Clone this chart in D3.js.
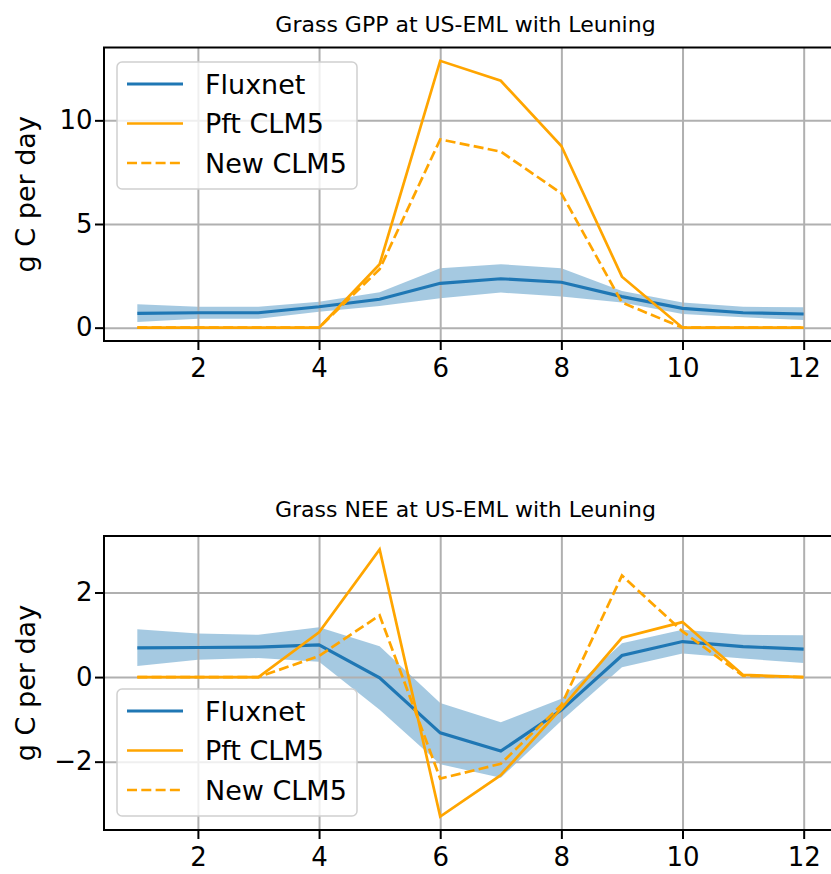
<!DOCTYPE html>
<html><head><meta charset="utf-8">
<script src="https://cdn.jsdelivr.net/npm/d3@7"></script>
<style>body{margin:0;background:#fff} svg{display:block;font-family:"DejaVu Sans",sans-serif}</style>
</head><body><svg id="c" width="831" height="874"></svg>
<script>
const months = [1,2,3,4,5,6,7,8,9,10,11,12];
const xTicks = [2,4,6,8,10,12];

// GPP panel
const gppFlux  = [0.69,0.72,0.72,1.01,1.37,2.14,2.36,2.19,1.50,0.93,0.72,0.66];
const gppLower = [0.27,0.43,0.43,0.77,1.05,1.42,1.69,1.50,1.21,0.66,0.50,0.37];
const gppUpper = [1.13,1.01,1.01,1.25,1.71,2.86,3.06,2.86,1.77,1.21,1.01,0.98];
const gppPft   = [0,0,0,0,3.06,12.87,11.91,8.76,2.46,0,0,0];
const gppNew   = [0,0,0,0,2.82,9.08,8.49,6.48,1.21,0,0,0];
const gppTicks = [0,5,10];

// NEE panel
const neeFlux  = [0.69,0.70,0.71,0.76,-0.02,-1.32,-1.75,-0.78,0.51,0.84,0.72,0.66];
const neeLower = [0.26,0.41,0.45,0.36,-0.77,-2.06,-2.38,-1.03,0.23,0.56,0.44,0.33];
const neeUpper = [1.13,1.03,1.00,1.18,0.73,-0.61,-1.07,-0.51,0.80,1.12,1.00,0.99];
const neePft   = [0,0,0,1.06,3.02,-3.30,-2.32,-0.74,0.93,1.30,0.05,0];
const neeNew   = [0,0,0,0.50,1.46,-2.40,-2.05,-0.66,2.40,1.08,0.03,0];
const neeTicks = [-2,0,2];

const seriesNames = ["Fluxnet","Pft CLM5","New CLM5"];
const BLUE = "#1f77b4", ORANGE = "#ffa500";
const FS = 27, TFS = 26;

const svg = d3.select("#c");
svg.append("rect").attr("width",831).attr("height",874).attr("fill","#fff");

function padded(ext){ const r = ext[1]-ext[0]; return [ext[0]-0.05*r, ext[1]+0.05*r]; }

function panel(o){
  const L = 104, R = 837;
  const x = d3.scaleLinear().domain(padded(d3.extent(months))).range([L,R]);
  const allY = [].concat(o.flux,o.lower,o.upper,o.pft,o.nw);
  const y = d3.scaleLinear().domain(padded(d3.extent(allY))).range([o.bottom,o.top]);
  const g = svg.append("g");
  const H = o.bottom - o.top;

  // band
  const area = d3.area().x((d,i)=>x(months[i])).y0((d,i)=>y(o.lower[i])).y1((d,i)=>y(o.upper[i]));
  g.append("path").datum(o.lower).attr("d",area).attr("fill",BLUE).attr("fill-opacity",0.4);

  // grid
  const gx = g.append("g").attr("transform",`translate(0,${o.bottom})`)
    .call(d3.axisBottom(x).tickValues(xTicks).tickSize(-H).tickFormat(""));
  const gy = g.append("g").attr("transform",`translate(${L},0)`)
    .call(d3.axisLeft(y).tickValues(o.yTicks).tickSize(-(R-L)).tickFormat(""));
  [gx,gy].forEach(a=>{a.select(".domain").remove(); a.selectAll("line").attr("stroke","#b0b0b0").attr("stroke-width",2);});

  // lines
  const line = arr => d3.line().x((d,i)=>x(months[i])).y(d=>y(d))(arr);
  g.append("path").attr("d",line(o.flux)).attr("fill","none").attr("stroke",BLUE).attr("stroke-width",3.2);
  g.append("path").attr("d",line(o.pft)).attr("fill","none").attr("stroke",ORANGE).attr("stroke-width",2.7);
  g.append("path").attr("d",line(o.nw)).attr("fill","none").attr("stroke",ORANGE).attr("stroke-width",2.7).attr("stroke-dasharray","10,4.3");

  // spines
  g.append("rect").attr("x",L).attr("y",o.top).attr("width",R-L).attr("height",H)
    .attr("fill","none").attr("stroke","#000").attr("stroke-width",2);

  // axes
  const ax = g.append("g").attr("transform",`translate(0,${o.bottom})`)
    .call(d3.axisBottom(x).tickValues(xTicks).tickSize(9).tickPadding(9).tickFormat(d3.format("d")));
  const ay = g.append("g").attr("transform",`translate(${L},0)`)
    .call(d3.axisLeft(y).tickValues(o.yTicks).tickSize(9).tickPadding(2.5).tickFormat(d=>d<0?"\u2212"+Math.abs(d):String(d)));
  [ax,ay].forEach(a=>{
    a.select(".domain").remove();
    a.selectAll("line").attr("stroke","#000").attr("stroke-width",2);
    a.selectAll("text").attr("font-family","DejaVu Sans").attr("font-size",TFS).attr("fill","#000");
  });

  // title
  g.append("text").attr("x",(L+R)/2 - 5).attr("y",o.titleY).attr("text-anchor","middle")
    .attr("font-size",22).attr("fill","#000").text(o.title);
  // ylabel
  g.append("text").attr("transform",`translate(35,${(o.top+o.bottom)/2}) rotate(-90)`)
    .attr("text-anchor","middle").attr("font-size",FS).attr("fill","#000").text("g C per day");

  // legend
  const lg = g.append("g").attr("transform",`translate(117,${o.legTop})`);
  lg.append("rect").attr("width",240).attr("height",127).attr("rx",5)
    .attr("fill","#fff").attr("fill-opacity",0.8).attr("stroke","#d0d0d0").attr("stroke-width",1.5);
  const styles = [{c:BLUE,w:3.2,d:null},{c:ORANGE,w:2.7,d:null},{c:ORANGE,w:2.7,d:"10,4.3"}];
  seriesNames.forEach((n,i)=>{
    const cy = 22 + i*39.5;
    lg.append("line").attr("x1",10).attr("x2",66).attr("y1",cy).attr("y2",cy)
      .attr("stroke",styles[i].c).attr("stroke-width",styles[i].w).attr("stroke-dasharray",styles[i].d);
    lg.append("text").attr("x",88).attr("y",cy).attr("dy","0.36em").attr("font-size",FS).attr("fill","#000").text(n);
  });
}

panel({top:47.5,bottom:341,title:"Grass GPP at US-EML with Leuning",titleY:32,
  flux:gppFlux,lower:gppLower,upper:gppUpper,pft:gppPft,nw:gppNew,yTicks:gppTicks,legTop:62});
panel({top:536,bottom:830,title:"Grass NEE at US-EML with Leuning",titleY:517,
  flux:neeFlux,lower:neeLower,upper:neeUpper,pft:neePft,nw:neeNew,yTicks:neeTicks,legTop:689});
</script></body></html>
